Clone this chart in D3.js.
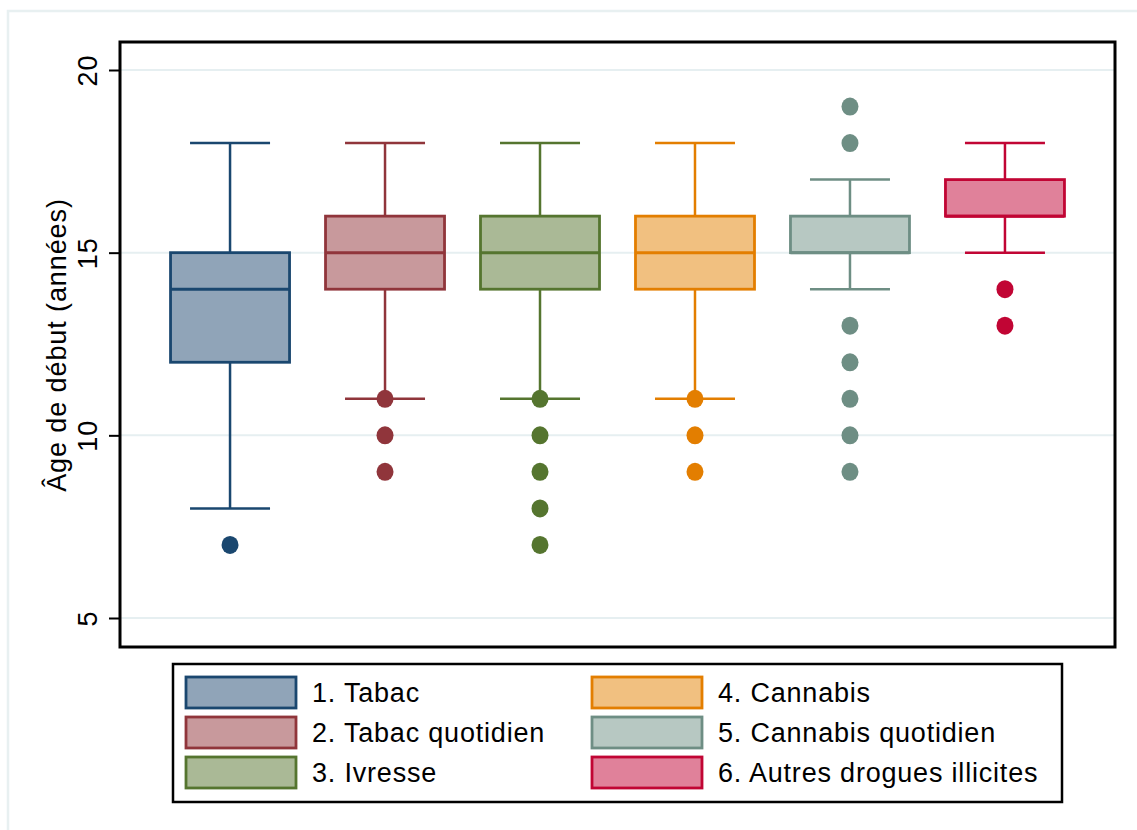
<!DOCTYPE html>
<html>
<head>
<meta charset="utf-8">
<script src="https://cdn.jsdelivr.net/npm/d3@7"></script>
<style>
  body { margin: 0; background: #fff; }
  svg { display: block; font-family: "Liberation Sans", Arial, sans-serif; }
</style>
</head>
<body>
<div id="chart"></div>
<script>
const categories = ['1. Tabac', '2. Tabac quotidien', '3. Ivresse', '4. Cannabis', '5. Cannabis quotidien', '6. Autres drogues illicites'];
const whiskerLow = [8, 11, 11, 11, 14, 15];
const q1 = [12, 14, 14, 14, 15, 16];
const median = [14, 15, 15, 15, 15, 16];
const q3 = [15, 16, 16, 16, 16, 17];
const whiskerHigh = [18, 18, 18, 18, 17, 18];
const outliers = [
  [7],
  [11, 10, 9],
  [11, 10, 9, 8, 7],
  [11, 10, 9],
  [19, 18, 13, 12, 11, 10, 9],
  [14, 13]
];
const yTicks = [5, 10, 15, 20];
const strokeColors = ['#1a476f', '#90353b', '#55752f', '#e37e00', '#6e8e84', '#c10534'];
const fillColors = ['#90a4b8', '#c8999c', '#aab996', '#f1c080', '#b7c8c2', '#e0819a'];

const W = 1137, H = 830;
const plot = { left: 120, top: 42, right: 1115, bottom: 647 };

const svg = d3.select('#chart').append('svg').attr('width', W).attr('height', H);

// light outer frame
svg.append('rect').attr('x', 8).attr('y', 11).attr('width', W + 20).attr('height', H + 20)
  .attr('fill', 'none').attr('stroke', '#e8f0f1').attr('stroke-width', 2.5);

const x = d3.scalePoint().domain(categories).range([plot.left, plot.right]).padding(0.71);
const y = d3.scaleLinear().domain([5, 20]).range([618, 70]);

// grid
svg.append('g').selectAll('line').data(yTicks).join('line')
  .attr('x1', plot.left).attr('x2', plot.right)
  .attr('y1', (d) => y(d)).attr('y2', (d) => y(d))
  .attr('stroke', '#e6eff1').attr('stroke-width', 2);

// y axis ticks and labels
const yAxisG = svg.append('g').attr('transform', `translate(${plot.left},0)`)
  .call(d3.axisLeft(y).tickValues(yTicks).tickSize(11).tickPadding(0).tickFormat(d3.format('d')));
yAxisG.select('.domain').remove();
yAxisG.selectAll('.tick line').attr('stroke', '#000').attr('stroke-width', 2);
yAxisG.selectAll('.tick text')
  .attr('transform', 'rotate(-90)')
  .attr('x', 0).attr('y', -23).attr('dy', 0)
  .attr('text-anchor', 'middle')
  .attr('fill', '#000').attr('font-size', 27).attr('letter-spacing', 1)
  .style('font-family', '"Liberation Sans", Arial, sans-serif');

svg.append('text')
  .attr('transform', `translate(66,${(y(5) + y(20)) / 2 + 1}) rotate(-90)`)
  .attr('text-anchor', 'middle').attr('font-size', 27).attr('letter-spacing', 0.9)
  .attr('fill', '#000').text('Âge de début (années)');

// boxes
const boxW = 119, capW = 80;
const groups = svg.append('g').selectAll('g').data(categories).join('g');

groups.each(function (c, i) {
  const g = d3.select(this);
  const cx = x(c);
  const col = strokeColors[i];
  g.append('line').attr('x1', cx).attr('x2', cx).attr('y1', y(whiskerHigh[i])).attr('y2', y(q3[i]))
    .attr('stroke', col).attr('stroke-width', 2.5);
  g.append('line').attr('x1', cx).attr('x2', cx).attr('y1', y(q1[i])).attr('y2', y(whiskerLow[i]))
    .attr('stroke', col).attr('stroke-width', 2.5);
  [whiskerHigh[i], whiskerLow[i]].forEach((v) => {
    g.append('line').attr('x1', cx - capW / 2).attr('x2', cx + capW / 2).attr('y1', y(v)).attr('y2', y(v))
      .attr('stroke', col).attr('stroke-width', 2.5);
  });
  g.append('rect').attr('x', cx - boxW / 2).attr('y', y(q3[i]))
    .attr('width', boxW).attr('height', y(q1[i]) - y(q3[i]))
    .attr('fill', fillColors[i]).attr('stroke', col).attr('stroke-width', 2.8);
  g.append('line').attr('x1', cx - boxW / 2).attr('x2', cx + boxW / 2)
    .attr('y1', y(median[i])).attr('y2', y(median[i]))
    .attr('stroke', col).attr('stroke-width', 3);
  g.selectAll('ellipse').data(outliers[i]).join('ellipse')
    .attr('cx', cx).attr('cy', (d) => y(d)).attr('rx', 8.5).attr('ry', 9).attr('fill', col);
});

// plot frame
svg.append('rect').attr('x', plot.left).attr('y', plot.top)
  .attr('width', plot.right - plot.left).attr('height', plot.bottom - plot.top)
  .attr('fill', 'none').attr('stroke', '#000').attr('stroke-width', 3);

// legend
const legend = svg.append('g');
legend.append('rect').attr('x', 173).attr('y', 664).attr('width', 889).attr('height', 138)
  .attr('fill', '#fff').attr('stroke', '#000').attr('stroke-width', 2.5);

const colX = [186, 592], rowY = [677, 717, 757];
const items = legend.selectAll('g').data(categories).join('g')
  .attr('transform', (d, i) => `translate(${colX[Math.floor(i / 3)]},${rowY[i % 3]})`);
items.append('rect').attr('width', 110).attr('height', 31)
  .attr('fill', (d, i) => fillColors[i]).attr('stroke', (d, i) => strokeColors[i]).attr('stroke-width', 2.8);
items.append('text').attr('x', 126).attr('y', 25)
  .attr('font-size', 27).attr('letter-spacing', 0.8).attr('fill', '#000').text((d) => d);
</script>
</body>
</html>
